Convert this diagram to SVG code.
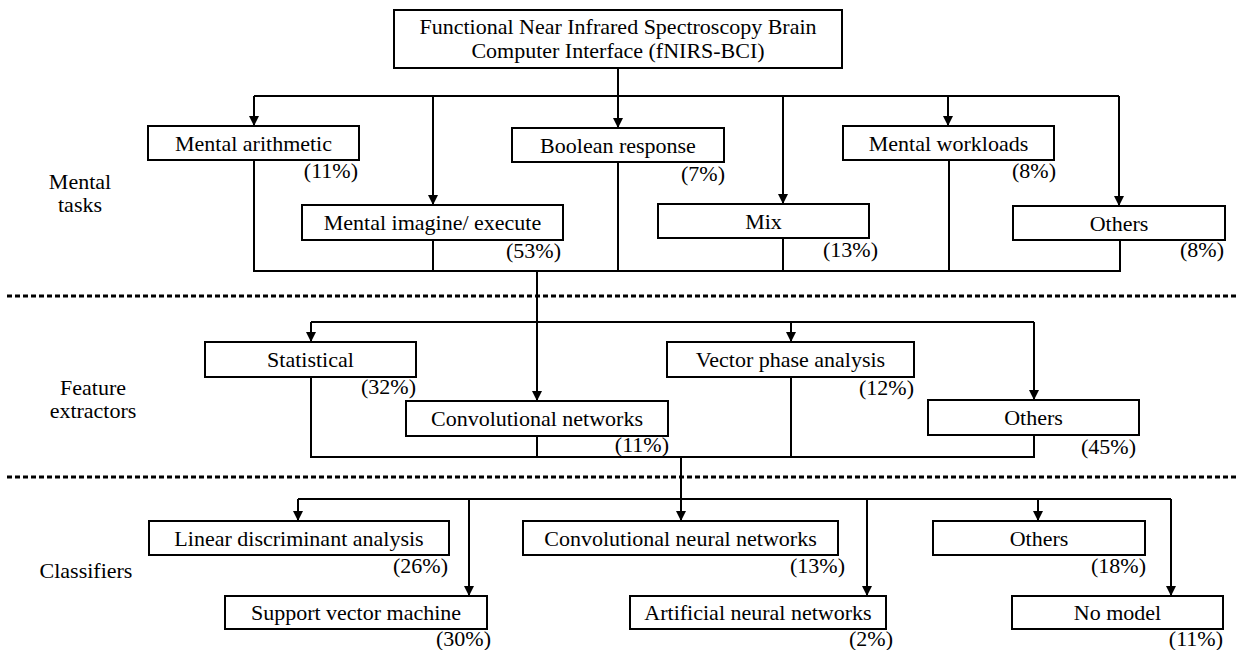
<svg xmlns="http://www.w3.org/2000/svg" width="1239" height="650" viewBox="0 0 1239 650">
<style>
  .box { fill: #ffffff; stroke: #000000; stroke-width: 2; }
  .t { font-family: "Liberation Serif", "Times New Roman", serif; font-size: 22px; fill: #000000; }
  .c { text-anchor: middle; }
  .e { text-anchor: end; }
  .ln { fill: none; stroke: #000000; stroke-width: 2; }
  .dot { fill: none; stroke: #000000; stroke-width: 3; stroke-dasharray: 5 3; }
</style>
<defs>
  <marker id="arr" viewBox="0 0 10 10" refX="10" refY="5" markerWidth="10" markerHeight="10" markerUnits="userSpaceOnUse" orient="auto">
    <path d="M0,0 L10,5 L0,10 z" fill="#000000"/>
  </marker>
</defs>
<rect x="0" y="0" width="1239" height="650" fill="#ffffff"/>

<g id="section-labels">
  <text class="t c" x="80" y="189">Mental</text>
  <text class="t c" x="80" y="212">tasks</text>
  <text class="t c" x="93" y="395">Feature</text>
  <text class="t c" x="93" y="418">extractors</text>
  <text class="t c" x="86" y="578">Classifiers</text>
</g>

<g id="separators">
  <line class="dot" x1="7" y1="296" x2="1239" y2="296"/>
  <line class="dot" x1="7" y1="477" x2="1239" y2="477"/>
</g>

<g id="connectors">
  <!-- section 1 -->
  <line class="ln" x1="618" y1="68" x2="618" y2="96"/>
  <line class="ln" x1="254" y1="96" x2="1119" y2="96"/>
  <line class="ln" x1="254" y1="96" x2="254" y2="126" marker-end="url(#arr)"/>
  <line class="ln" x1="433" y1="96" x2="433" y2="205" marker-end="url(#arr)"/>
  <line class="ln" x1="618" y1="96" x2="618" y2="128" marker-end="url(#arr)"/>
  <line class="ln" x1="783" y1="96" x2="783" y2="204" marker-end="url(#arr)"/>
  <line class="ln" x1="948" y1="96" x2="948" y2="126" marker-end="url(#arr)"/>
  <line class="ln" x1="1119" y1="96" x2="1119" y2="206" marker-end="url(#arr)"/>
  <polyline class="ln" points="254,160 254,271 1120,271 1120,240"/>
  <line class="ln" x1="433" y1="240" x2="433" y2="271"/>
  <line class="ln" x1="618" y1="162" x2="618" y2="271"/>
  <line class="ln" x1="783" y1="238" x2="783" y2="271"/>
  <line class="ln" x1="949" y1="160" x2="949" y2="271"/>
  <line class="ln" x1="537" y1="271" x2="537" y2="401" marker-end="url(#arr)"/>
  <!-- section 2 -->
  <line class="ln" x1="311" y1="322" x2="1034" y2="322"/>
  <line class="ln" x1="311" y1="322" x2="311" y2="342" marker-end="url(#arr)"/>
  <line class="ln" x1="791" y1="322" x2="791" y2="342" marker-end="url(#arr)"/>
  <line class="ln" x1="1034" y1="322" x2="1034" y2="400" marker-end="url(#arr)"/>
  <polyline class="ln" points="311,377 311,457 1034,457 1034,435"/>
  <line class="ln" x1="537" y1="436" x2="537" y2="457"/>
  <line class="ln" x1="791" y1="377" x2="791" y2="457"/>
  <line class="ln" x1="681" y1="457" x2="681" y2="521" marker-end="url(#arr)"/>
  <!-- section 3 -->
  <line class="ln" x1="298" y1="499" x2="1171" y2="499"/>
  <line class="ln" x1="298" y1="499" x2="298" y2="521" marker-end="url(#arr)"/>
  <line class="ln" x1="469" y1="499" x2="469" y2="596" marker-end="url(#arr)"/>
  <line class="ln" x1="867" y1="499" x2="867" y2="596" marker-end="url(#arr)"/>
  <line class="ln" x1="1038" y1="499" x2="1038" y2="521" marker-end="url(#arr)"/>
  <line class="ln" x1="1171" y1="499" x2="1171" y2="596" marker-end="url(#arr)"/>
</g>

<g id="root">
  <rect class="box" x="394" y="10" width="448" height="58"/>
  <text class="t c" x="618" y="34">Functional Near Infrared Spectroscopy Brain</text>
  <text class="t c" x="618" y="58">Computer Interface (fNIRS-BCI)</text>
</g>

<g id="mental-arithmetic">
  <rect class="box" x="148" y="126" width="211" height="34"/>
  <text class="t c" x="253.5" y="151">Mental arithmetic</text>
  <text class="t e" x="358" y="178">(11%)</text>
</g>
<g id="boolean-response">
  <rect class="box" x="512" y="128" width="212" height="34"/>
  <text class="t c" x="618" y="153">Boolean response</text>
  <text class="t e" x="725" y="181">(7%)</text>
</g>
<g id="mental-workloads">
  <rect class="box" x="843" y="126" width="211" height="34"/>
  <text class="t c" x="948.5" y="151">Mental workloads</text>
  <text class="t e" x="1056" y="178">(8%)</text>
</g>
<g id="mental-imagine">
  <rect class="box" x="302" y="205" width="261" height="35"/>
  <text class="t c" x="432.5" y="230">Mental imagine/ execute</text>
  <text class="t e" x="561" y="258">(53%)</text>
</g>
<g id="mix">
  <rect class="box" x="658" y="204" width="211" height="34"/>
  <text class="t c" x="763.5" y="229">Mix</text>
  <text class="t e" x="878" y="257">(13%)</text>
</g>
<g id="others-tasks">
  <rect class="box" x="1013" y="206" width="212" height="34"/>
  <text class="t c" x="1119" y="231">Others</text>
  <text class="t e" x="1224" y="257">(8%)</text>
</g>

<g id="statistical">
  <rect class="box" x="205" y="342" width="211" height="35"/>
  <text class="t c" x="310.5" y="367">Statistical</text>
  <text class="t e" x="416" y="394">(32%)</text>
</g>
<g id="vector-phase">
  <rect class="box" x="667" y="342" width="247" height="35"/>
  <text class="t c" x="790.5" y="367">Vector phase analysis</text>
  <text class="t e" x="914" y="395">(12%)</text>
</g>
<g id="conv-networks">
  <rect class="box" x="406" y="401" width="262" height="35"/>
  <text class="t c" x="537" y="426">Convolutional networks</text>
  <text class="t e" x="669" y="452">(11%)</text>
</g>
<g id="others-features">
  <rect class="box" x="928" y="400" width="211" height="35"/>
  <text class="t c" x="1033.5" y="425">Others</text>
  <text class="t e" x="1136" y="454">(45%)</text>
</g>

<g id="lda">
  <rect class="box" x="149" y="521" width="300" height="34"/>
  <text class="t c" x="299" y="546">Linear discriminant analysis</text>
  <text class="t e" x="448" y="573">(26%)</text>
</g>
<g id="cnn">
  <rect class="box" x="523" y="521" width="315" height="34"/>
  <text class="t c" x="680.5" y="546">Convolutional neural networks</text>
  <text class="t e" x="845" y="573">(13%)</text>
</g>
<g id="others-classifiers">
  <rect class="box" x="933" y="521" width="212" height="34"/>
  <text class="t c" x="1039" y="546">Others</text>
  <text class="t e" x="1146" y="573">(18%)</text>
</g>
<g id="svm">
  <rect class="box" x="225" y="596" width="262" height="33"/>
  <text class="t c" x="356" y="620">Support vector machine</text>
  <text class="t e" x="491" y="646">(30%)</text>
</g>
<g id="ann">
  <rect class="box" x="630" y="596" width="256" height="33"/>
  <text class="t c" x="758" y="620">Artificial neural networks</text>
  <text class="t e" x="893" y="646">(2%)</text>
</g>
<g id="no-model">
  <rect class="box" x="1012" y="596" width="211" height="33"/>
  <text class="t c" x="1117.5" y="620">No model</text>
  <text class="t e" x="1223" y="646">(11%)</text>
</g>
</svg>
